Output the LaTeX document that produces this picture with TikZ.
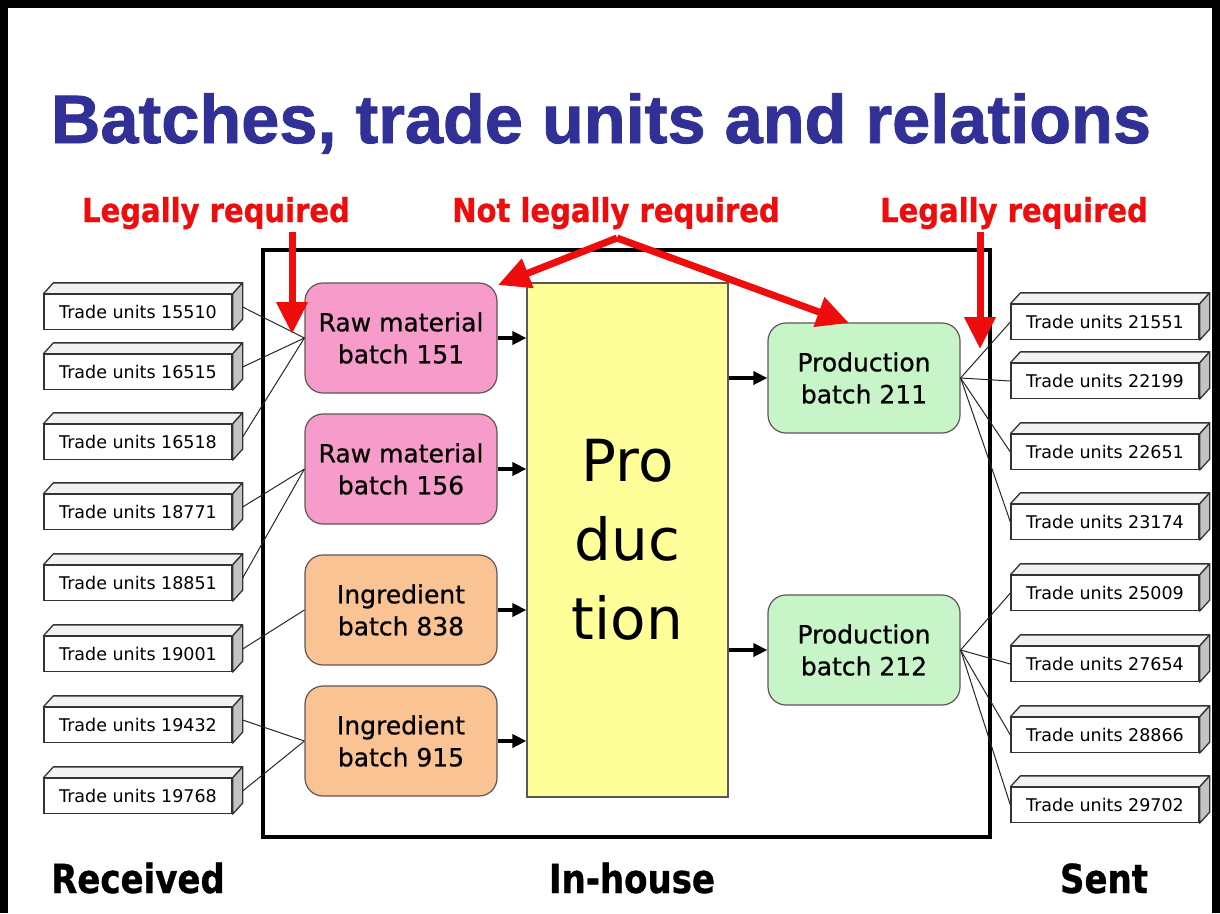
\documentclass[tikz,border=0pt]{standalone}
\usepackage{fontspec}
\setmainfont{DejaVu Sans}
\newfontfamily\titlefont[FakeBold=1.2]{Liberation Sans Bold}
\newfontfamily\callfont[FakeStretch=0.88,FakeBold=0.8]{DejaVu Sans Bold}
\newfontfamily\capfont[FakeStretch=0.85,FakeBold=0.8]{DejaVu Sans Bold}
\newfontfamily\batchfont[FakeBold=0.7]{DejaVu Sans}
\usetikzlibrary{arrows.meta}

\definecolor{titleblue}{RGB}{48,48,150}
\definecolor{callred}{RGB}{238,12,12}
\definecolor{rawpink}{RGB}{247,155,202}
\definecolor{ingpeach}{RGB}{250,195,148}
\definecolor{prodgreen}{RGB}{200,245,200}
\definecolor{prodyellow}{RGB}{255,255,153}
\definecolor{boxline}{RGB}{95,85,90}
\definecolor{sidegray}{RGB}{195,195,195}
\definecolor{topgray}{RGB}{242,242,242}

% a trade unit drawn as a flat 3-D bar: front face is the node, top and side faces added
\newcommand\tradebox[4]{%
  \node[tu] (#1) at (#2,#3) {Trade units #4};
  \filldraw[fill=topgray, draw=black!80, line width=1.3, line join=round]
    (#1.north west) -- ++(10,-11) -- ([shift={(10,-11)}]#1.north east) -- (#1.north east) -- cycle;
  \filldraw[fill=sidegray, draw=black!80, line width=1.3, line join=round]
    (#1.north east) -- ++(10,-11) -- ([shift={(10,-11)}]#1.south east) -- (#1.south east) -- cycle;
}

\begin{document}
\begin{tikzpicture}[x=1pt,y=-1pt,
  batch/.style={draw=boxline, line width=1.2, rounded corners=18, minimum width=192,
    minimum height=110, align=center, inner sep=0, font=\batchfont\fontsize{25}{32}\selectfont},
  tu/.style={draw=black!80, fill=white, line width=1.3, minimum width=188, minimum height=35,
    inner sep=0, font=\fontsize{17.5}{20}\selectfont},
  link/.style={draw=black!85, line width=1},
  feed/.style={-{Triangle[length=14pt,width=13pt]}, line width=3.5},
  callout/.style={draw=callred, line width=7, line join=round,
    -{Triangle[length=32pt,width=30pt]}},
  calltext/.style={text=callred, font=\callfont\fontsize{33}{36}\selectfont, anchor=base, inner sep=0},
  sidetext/.style={font=\capfont\fontsize{40}{44}\selectfont, anchor=base, inner sep=0}]

\useasboundingbox (0,0) rectangle (1220,913);
\fill[white] (0,0) rectangle (1220,913);

% slide frame (open at the bottom)
\draw[line width=8] (4,913) -- (4,4) -- (1216,4) -- (1216,913);

% title
\node[anchor=base, inner sep=0, text=titleblue, font=\titlefont\fontsize{68.5}{72}\selectfont]
  (title) at (601,143) {Batches, trade units and relations};

% in-house frame
\draw[line width=4] (263,250) rectangle (990,837);

% production block
\node[draw=boxline, line width=1.2, fill=prodyellow, minimum width=201, minimum height=514,
  inner sep=0, align=center, font=\fontsize{58}{79}\selectfont] (prod) at (627.5,540) {Pro\\duc\\tion};

% incoming batches
\node[batch, fill=rawpink]  (r151) at (401,338) {Raw material\\batch 151};
\node[batch, fill=rawpink]  (r156) at (401,469) {Raw material\\batch 156};
\node[batch, fill=ingpeach] (i838) at (401,610) {Ingredient\\batch 838};
\node[batch, fill=ingpeach] (i915) at (401,741) {Ingredient\\batch 915};

% outgoing batches
\node[batch, fill=prodgreen] (p211) at (864,378) {Production\\batch 211};
\node[batch, fill=prodgreen] (p212) at (864,650) {Production\\batch 212};

% received trade units
\tradebox{a1}{138}{312}{15510}
\tradebox{a2}{138}{372}{16515}
\tradebox{a3}{138}{442}{16518}
\tradebox{a4}{138}{512}{18771}
\tradebox{a5}{138}{583}{18851}
\tradebox{a6}{138}{654}{19001}
\tradebox{a7}{138}{725}{19432}
\tradebox{a8}{138}{796}{19768}

% sent trade units
\tradebox{b1}{1105}{322}{21551}
\tradebox{b2}{1105}{381}{22199}
\tradebox{b3}{1105}{452}{22651}
\tradebox{b4}{1105}{522}{23174}
\tradebox{b5}{1105}{593}{25009}
\tradebox{b6}{1105}{664}{27654}
\tradebox{b7}{1105}{735}{28866}
\tradebox{b8}{1105}{805}{29702}

% relations: received units to batches
\foreach \u/\b in {a1/r151, a2/r151, a3/r151, a4/r156, a5/r156, a6/i838, a7/i915, a8/i915}
  \draw[link] ([shift={(10,-5)}]\u.east) -- (\b.west);

% relations: production batches to sent units
\foreach \b/\u in {p211/b1, p211/b2, p211/b3, p211/b4, p212/b5, p212/b6, p212/b7, p212/b8}
  \draw[link] (\b.east) -- (\u.west);

% flow into and out of production
\foreach \b in {r151, r156, i838, i915}
  \draw[feed] (\b.east) -- (\b.east -| prod.west);
\foreach \b in {p211, p212}
  \draw[feed] (\b.west -| prod.east) -- (\b.west);

% legal annotations
\node[calltext] (legL) at (216,222) {Legally required};
\node[calltext] (nleg) at (616,222) {Not legally required};
\node[calltext] (legR) at (1014,222) {Legally required};

\coordinate (legLs) at (292,232);
\coordinate (legLt) at (292,334);
\coordinate (nlegs) at (617,238);
\coordinate (nlegl) at (498,285);
\coordinate (nlegr) at (849,323);
\coordinate (legRs) at (980,232);
\coordinate (legRt) at (980,349);

\draw[callout] (legLs) -- (legLt);
\draw[callout] (nlegs) -- (nlegl);
\draw[callout] (nlegs) -- (nlegr);
\draw[callout] (legRs) -- (legRt);

% column captions
\node[sidetext] (recv) at (138,893) {Received};
\node[sidetext] (inh)  at (632,893) {In-house};
\node[sidetext] (sent) at (1104,893) {Sent};

\end{tikzpicture}
\end{document}
